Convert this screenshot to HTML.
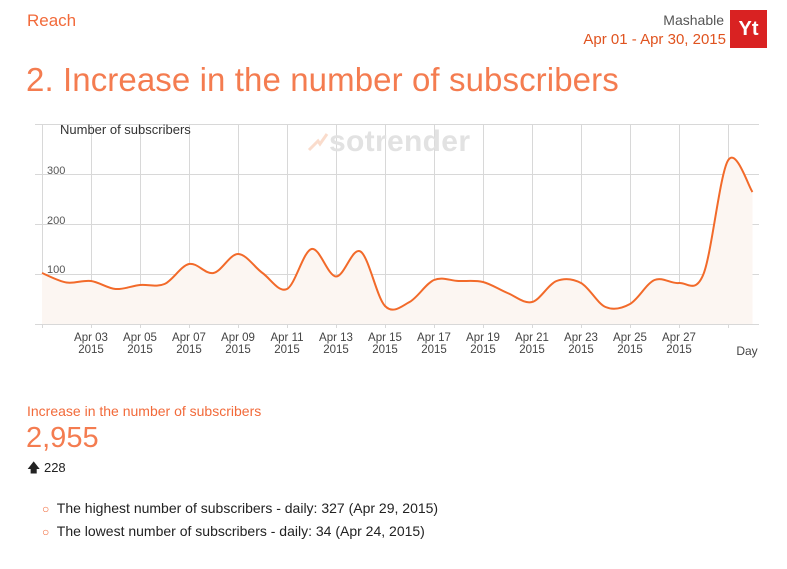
<!DOCTYPE html>
<html><head><meta charset="utf-8"><style>
body{margin:0;width:787px;height:569px;background:#fff;font-family:"Liberation Sans",sans-serif;position:relative;overflow:hidden}
.a{position:absolute;white-space:nowrap}
</style></head><body>
<div class="a" style="left:27px;top:11px;font-size:17px;color:#f26a3a">Reach</div>
<div class="a" style="right:63px;top:12px;font-size:14px;color:#555;text-align:right">Mashable</div>
<div class="a" style="right:61px;top:31px;font-size:15px;color:#e0531f">Apr 01 - Apr 30, 2015</div>
<div class="a" style="left:730px;top:10px;width:37px;height:38px;background:#d92222;color:#fff;font-weight:bold;font-size:20px;line-height:38px;text-align:center">Yt</div>
<div class="a" style="left:26px;top:61px;font-size:33px;color:#f47c50;letter-spacing:0.1px">2. Increase in the number of subscribers</div>
<svg class="a" style="left:0;top:0" width="787" height="380" id="s">
<g stroke="#d8d8d8" stroke-width="1">
<line x1="35" y1="124.5" x2="759" y2="124.5"/>
<line x1="35" y1="174.5" x2="759" y2="174.5"/>
<line x1="35" y1="224.5" x2="759" y2="224.5"/>
<line x1="35" y1="274.5" x2="759" y2="274.5"/>
<line x1="35" y1="324.5" x2="759" y2="324.5"/>
</g>
<g id="vg" stroke="#d8d8d8" stroke-width="1"></g>
<text x="329" y="151" font-size="30" font-weight="bold" fill="#e2e2e2" font-family="Liberation Sans" textLength="141">sotrender</text>
<path d="M309 150 L318 141 L320 144 L327 134" stroke="#fadccc" stroke-width="3" fill="none"/>
<text x="60" y="134" font-size="13" fill="#333">Number of subscribers</text>
<g font-size="11" fill="#555"><text x="47" y="174">300</text><text x="47" y="224">200</text><text x="47" y="273">100</text></g>
<g id="xl" font-size="11.5" fill="#444" text-anchor="middle"></g>
<text x="747" y="355" font-size="12" fill="#444" text-anchor="middle">Day</text>
<path id="ar" fill="#fcf6f2"/>
<path id="ln" fill="none" stroke="#f26a2a" stroke-width="2"/>
</svg>
<div class="a" style="left:27px;top:403px;font-size:14px;color:#f26a3a">Increase in the number of subscribers</div>
<div class="a" style="left:26px;top:422px;font-size:29px;color:#f47c50">2,955</div>
<div class="a" style="left:27px;top:459px;font-size:13px;color:#222">&#129093; 228</div>
<div class="a" style="left:42px;top:500px;font-size:14px;color:#222"><span style="color:#f26a3a;font-weight:bold;font-size:12px">&#9675;</span>&nbsp; The highest number of subscribers - daily: 327 (Apr 29, 2015)</div>
<div class="a" style="left:42px;top:523px;font-size:14px;color:#222"><span style="color:#f26a3a;font-weight:bold;font-size:12px">&#9675;</span>&nbsp; The lowest number of subscribers - daily: 34 (Apr 24, 2015)</div>
<script>
var v=[102,83,86,70,78,80,120,102,140,102,70,150,95,145,36,44,88,86,84,62,44,86,82,34,40,88,82,100,327,264];
var X=function(i){return 42+i*24.5},Y=function(x){return 324-x/2};
var vg=document.getElementById('vg'),xl=document.getElementById('xl'),ns="http://www.w3.org/2000/svg";
for(var i=0;i<30;i+=2){var l=document.createElementNS(ns,'line');var x=Math.round(X(i))+0.5;l.setAttribute('x1',x);l.setAttribute('x2',x);l.setAttribute('y1',124);l.setAttribute('y2',328);vg.appendChild(l);
if(i>0&&i<28){var d=i+1;var t=document.createElementNS(ns,'text');t.setAttribute('x',X(i));t.setAttribute('y',341);t.textContent='Apr '+(d<10?'0'+d:d);xl.appendChild(t);var t2=document.createElementNS(ns,'text');t2.setAttribute('x',X(i));t2.setAttribute('y',353);t2.textContent='2015';xl.appendChild(t2);}}
var p=v.map(function(a,i){return[X(i),Y(a)]});
var d='M'+p[0][0]+' '+p[0][1];
for(var i=0;i<p.length-1;i++){var p0=p[Math.max(0,i-1)],p1=p[i],p2=p[i+1],p3=p[Math.min(p.length-1,i+2)];
d+=' C'+(p1[0]+(p2[0]-p0[0])/6)+' '+(p1[1]+(p2[1]-p0[1])/6)+' '+(p2[0]-(p3[0]-p1[0])/6)+' '+(p2[1]-(p3[1]-p1[1])/6)+' '+p2[0]+' '+p2[1];}
document.getElementById('ln').setAttribute('d',d);
document.getElementById('ar').setAttribute('d',d+' L'+p[29][0]+' 324 L42 324Z');
</script>
</body></html>
